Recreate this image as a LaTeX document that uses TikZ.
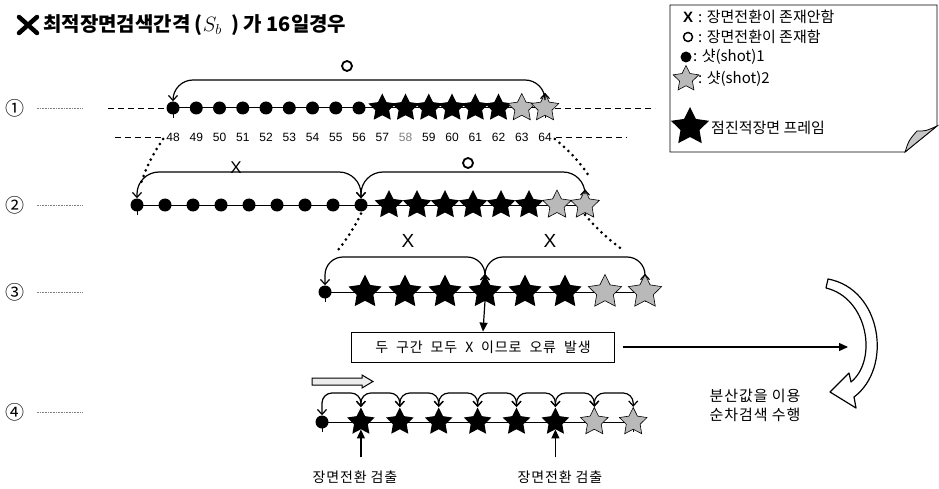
\documentclass[tikz,border=0pt]{standalone}
\usepackage{fontspec}
\setmainfont{Liberation Sans}
\newfontfamily\kr{Noto Sans CJK KR}
\newfontfamily\krw{Noto Sans CJK KR}[LetterSpace=6]
\usetikzlibrary{shapes.geometric,arrows.meta,calc,backgrounds}
\begin{document}
\begin{tikzpicture}[x=1pt,y=-1pt,
  dotn/.style={circle,fill=black,inner sep=0pt,minimum size=13pt},
  bstar/.style={star,star points=5,star point ratio=2.0,fill=black,inner sep=0pt,minimum size=#1},
  gstar/.style={star,star points=5,star point ratio=2.0,fill=gray!55,draw=black,line width=0.6pt,inner sep=0pt,minimum size=#1},
  rowlab/.style={font=\kr\fontsize{19}{21}\selectfont,inner sep=0pt},
  guide/.style={gray,line width=0.7pt,dash pattern=on 1pt off 0.6pt},
  numl/.style={font=\fontsize{12}{14}\selectfont,inner sep=0pt},
  arcs/.style={line width=1.2pt,>={Straight Barb[length=5pt,width=9pt]},<->,rounded corners=#1},
  dotc/.style={line width=3pt,line cap=round,dash pattern=on 0pt off 6pt},
  dashc/.style={line width=0.9pt,dash pattern=on 6pt off 4pt},
  lx/.style={font=\fontsize{17}{19}\selectfont,inner sep=0pt},
  lo/.style={circle,draw=black,line width=1.8pt,minimum size=10pt,inner sep=0pt},
  legt/.style={font=\kr\fontsize{15}{17}\selectfont,anchor=west,inner sep=0pt},
  krt/.style={font=\krw\fontsize{14}{16}\selectfont,inner sep=0pt},
  uparr/.style={line width=1.2pt,-{Triangle[length=9pt,width=8pt]}}
]
\useasboundingbox (0,0) rectangle (939,489);

% ---------- title ----------
\draw[line width=4.5pt,line cap=round] (19,17) -- (37,33) (19,33) -- (37,17);
\node[anchor=west,inner sep=0pt,font=\kr\bfseries\fontsize{20}{22}\selectfont] (title) at (43,25)
  {최적장면검색간격 ($S_b$\ \ ) 가 16일경우};

% ---------- legend ----------
\draw[line width=0.9pt] (670,5) -- (937,5) -- (937,126) -- (905,152) -- (670,152) -- cycle;
\filldraw[fill=gray!45,line width=0.8pt] (905,152) .. controls (909,140) .. (917,131) .. controls (926,131) .. (937,126) -- cycle;
\node[font=\bfseries\fontsize{15}{17}\selectfont,inner sep=0pt] (lgx) at (688,17) {X};
\node[legt] (lgxt) at (698,17) {: 장면전환이 존재안함};
\node[lo,line width=1.5pt,minimum size=9pt] (lgo) at (688,37) {};
\node[legt] (lgot) at (698,37) {: 장면전환이 존재함};
\node[dotn,minimum size=11pt] (lgd) at (686,57) {};
\node[legt] (lgdt) at (693,57) {: 샷(shot)1};
\node[gstar=27pt] (lgs) at (686,79) {};
\node[legt] (lgst) at (698,79) {: 샷(shot)2};
\node[bstar=40pt] (lgb) at (690,127) {};
\node[legt] (lgbt) at (711,128) {점진적장면 프레임};

% ---------- row labels ----------
\foreach \k/\t/\y in {1/①/108,2/②/205,3/③/292,4/④/412}{
  \node[rowlab] (c\k) at (15,\y) {\t};
  \coordinate (g\k) at (82,\y);
  \draw[guide] ([xshift=12pt]c\k.east) -- (g\k);
}

% ---------- row 1 ----------
\foreach \i in {0,...,8} \node[dotn] (r1-\i) at (173+23.25*\i,108) {};
\foreach \i in {9,...,14} \node[bstar=29pt] (r1-\i) at (173+23.25*\i,108) {};
\foreach \i in {15,16} \node[gstar=29pt] (r1-\i) at (173+23.25*\i,108) {};
\coordinate (d1l) at (108,108);
\coordinate (d1r) at (655,108);
\foreach \i [evaluate=\i as \n using {int(48+\i)}] in {0,...,9,11,12,...,16}
  \node[numl] (n\n) at (173+23.25*\i,137) {\n};
\node[numl,text=gray] (n58) at (173+23.25*10,137) {58};
\coordinate (d2l) at (115,137);
\coordinate (d2r) at (627,137);
\draw[dashc,line width=0.6pt] (d2l) -- ([xshift=-4pt]n48.west);
\draw[dashc,line width=0.6pt] ([xshift=4pt]n64.east) -- (d2r);
\coordinate (t1) at (358,80);
\draw[arcs=20pt] (r1-0.north) |- (t1) -| (r1-16.north);
\node[lo] (o1) at (347,66) {};

% ---------- row 2 ----------
\foreach \i in {0,...,8} \node[dotn] (r2-\i) at (137+28*\i,205) {};
\foreach \i in {9,...,14} \node[bstar=30pt] (r2-\i) at (137+28*\i,205) {};
\foreach \i in {15,16} \node[gstar=30pt] (r2-\i) at (137+28*\i,205) {};
\coordinate (t2a) at (248,172);
\coordinate (t2b) at (475,172);
\draw[arcs=22pt] (r2-0.north) |- (t2a) -| (r2-8.north);
\draw[arcs=22pt] (r2-8.north) |- (t2b) -| (r2-16.north);
\node[lx] (x2) at (236,168) {X};
\node[lo] (o2) at (468,163) {};

% ---------- row 3 ----------
\node[dotn] (r3-0) at (325,292) {};
\foreach \i in {1,...,6} \node[bstar=35pt] (r3-\i) at (325+40*\i,292) {};
\foreach \i in {7,8} \node[gstar=35pt] (r3-\i) at (325+40*\i,292) {};
\coordinate (t3a) at (405,257);
\coordinate (t3b) at (565,257);
\draw[arcs=18pt] (r3-0.north) |- (t3a) -| (r3-4.north);
\draw[arcs=18pt] (r3-4.north) |- (t3b) -| (r3-8.north);
\node[lx,font=\fontsize{19}{21}\selectfont] (x3a) at (408,241) {X};
\node[lx,font=\fontsize{19}{21}\selectfont] (x3b) at (550,241) {X};

% ---------- error box ----------
\node[draw,line width=0.8pt,minimum width=263pt,minimum height=30pt,inner sep=0pt,
      font=\krw\fontsize{14}{16}\selectfont] (box) at (483,347)
  {두\ \ 구간\ \ 모두\ \ X\ \ 이므로\ \ 오류\ \ 발생};
\draw[uparr] (r3-4.south) -- (box.north);
\coordinate (ar) at (848,347);
\draw[uparr] ([xshift=8pt]box.east) -- (ar);

% ---------- curved hollow arrow ----------
\draw[line width=1.2pt,fill=white,line join=round]
  (828,279) .. controls (882,289) and (893,368) .. (854,397)
  -- (856,408) -- (830,392) -- (849,373) -- (851,382)
  .. controls (878,360) and (868,298) .. (826,288) -- cycle;
\node[krt,font=\krw\fontsize{15}{19}\selectfont,align=left] (seq) at (755,405)
  {분산값을 이용\\순차검색 수행};

% ---------- row 4 ----------
\node[dotn] (r4-0) at (322,422) {};
\foreach \i in {1,...,6} \node[bstar=29pt] (r4-\i) at (322+38.9*\i,422) {};
\foreach \i in {7,8} \node[gstar=29pt] (r4-\i) at (322+38.9*\i,422) {};
\foreach \i [evaluate=\i as \j using {int(\i+1)}] in {0,...,7}{
  \coordinate (t4-\i) at (322+38.9*\i+19.45,393);
  \draw[arcs=10pt] (r4-\i.north) |- (t4-\i) -| (r4-\j.north);
}
\draw[line width=1pt,fill=gray!15] (312,378) -- (362,378) -- (362,375) -- (373,381.5)
  -- (362,388) -- (362,385) -- (312,385) -- cycle;
\node[krt] (lab1) at (355,477) {장면전환 검출};
\node[krt] (lab2) at (560,477) {장면전환 검출};
\draw[uparr] ([yshift=13pt]lab1.north -| r4-1.south) -- (r4-1.south);
\draw[uparr] ([yshift=13pt]lab2.north -| r4-6.south) -- (r4-6.south);

% ---------- background layer ----------
\begin{scope}[on background layer]
  \fill[white] (0,0) rectangle (939,489);
  \draw[line width=1pt] (r1-0.center) -- (r1-16.center);
  \draw[dashc] (d1l) -- (r1-0.center);
  \draw[dashc] (r1-16.center) -- (d1r);
  \draw[line width=1pt] (r2-0.center) -- (r2-16.center);
  \draw[line width=1pt] (r3-0.center) -- (r3-8.center);
  \draw[line width=1pt] (r4-0.center) -- (r4-8.center);
  \foreach \r/\a/\b in {1/0/16,2/0/16,3/0/8,4/0/8}{
    \draw[line width=0.8pt] ([yshift=3pt]r\r-\a.center) -- ([yshift=-10pt]r\r-\a.center);
    \draw[line width=0.8pt] ([yshift=3pt]r\r-\b.center) -- ([yshift=-10pt]r\r-\b.center);
  }
  \draw[dotc] ([xshift=-3pt,yshift=-2pt]n48.west) to[bend right=8] ([xshift=3pt,yshift=12pt]r2-0.north);
  \draw[dotc] ([xshift=3pt,yshift=-2pt]n64.east) to[bend left=8] ([xshift=5pt,yshift=12pt]r2-16.north);
  \draw[dotc] ([yshift=-2pt]r2-8.south) to[bend left=6] ([xshift=12pt,yshift=34pt]r3-0.north);
  \draw[dotc] ([yshift=-2pt]r2-16.south) to[bend right=6] ([xshift=-25pt,yshift=26pt]r3-8.north);
\end{scope}
\end{tikzpicture}
\end{document}
